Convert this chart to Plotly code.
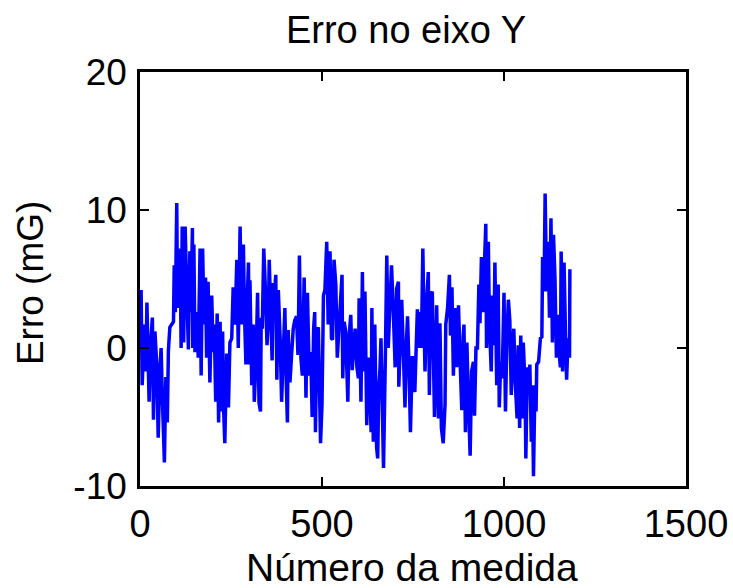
import plotly.graph_objects as go

medida = [3, 6, 12, 16, 19, 25, 29, 34, 37, 41, 46, 50, 55, 58, 61, 67, 71, 75, 78, 82, 92, 94, 97, 101, 103, 107, 110, 113, 116, 120, 124, 128, 133, 137, 140, 144, 145, 148, 151, 156, 160, 165, 168, 172, 176, 180, 183, 187, 192, 197, 201, 204, 208, 212, 216, 220, 224, 227, 229, 233, 238, 243, 247, 252, 256, 261, 266, 270, 275, 279, 284, 287, 291, 295, 298,
          300, 302, 307, 311, 314, 319, 323, 327, 331, 333, 336, 340, 344, 349, 353, 355, 359, 363, 366, 369, 373, 376, 380, 385, 389, 394, 398, 402, 405, 407, 412, 416, 421, 425, 430, 434, 438, 442, 446, 451,
          456, 460, 465, 469, 473, 477, 480, 482, 486, 490, 494, 496, 500, 504, 508, 513, 517, 522, 526, 529, 533, 538, 542, 546, 551, 555, 557, 561, 565, 568, 571, 574, 579, 583, 587, 591, 596, 600, 602,
          607, 611, 614, 618, 623, 627, 631, 635, 637, 641, 645, 650, 653, 656, 659, 662, 666, 669, 674, 678, 682, 687, 691, 696, 701, 705, 710, 711, 715, 719, 724, 728, 732, 735, 739, 743, 748, 752, 755,
          758, 762, 767, 769, 773, 777, 780, 783, 788, 792, 795, 799, 803, 806, 809, 813, 815, 820, 824, 828, 833, 838, 840, 845, 850, 853, 857, 861, 865, 870, 875, 879, 884, 888, 890, 894, 898, 902, 905,
          907, 911, 916, 919, 923, 927, 931, 934, 938, 942, 946, 950, 952, 957, 960, 965, 968, 972, 975, 980, 984, 987, 991, 995, 1000, 1004, 1008, 1012, 1016, 1020, 1025, 1027, 1031, 1036, 1039, 1043, 1046, 1050, 1053,
          1058, 1060, 1064, 1068, 1071, 1075, 1078, 1081, 1085, 1088, 1090, 1095, 1100, 1104, 1106, 1110, 1113, 1117, 1121, 1125, 1129, 1133, 1136, 1140, 1144, 1148, 1151, 1155, 1157, 1161, 1165, 1169, 1172, 1176, 1180, 1181]
erro = [4.2, -2.7, 1.7, -1.7, 3.3, -3.9, 0.2, 2.2, -5.2, 1.2, -1.2, -6.5, -1.4, 0.0, -3.2, -8.3, -2.1, -5.4, -0.2, 1.5, 1.9, 6.0, 2.6, 10.5, 2.9, 5.3, 7.2, 0.0, 8.8, 0.4, 8.8, 4.6, -0.1, 7.0, 2.6, 8.7, 0.0, 7.5, -0.3, 2.6, -0.7, 7.2, -2.0, 7.2, 1.7, 5.1, -0.7, 4.8, -2.5, 3.8, -0.3, 1.7, -3.9, 2.5, -5.4, 1.9, -4.6, 1.2, -3.9, -6.9, -0.4, -4.3, 0.4, 0.7, 4.4, 1.7, 6.4, 0.0, 8.8, 1.7, 7.5, 2.6, -1.2, 3.8, 6.2,
        -1.2, 4.9, -2.7, 1.7, -3.9, -0.7, 4.0, -4.0, -4.6, 2.2, 1.4, 7.2, 4.6, 0.2, 2.6, 6.4, 2.7, -0.9, 4.7, 3.6, 5.3, -2.3, 4.2, 0.7, -3.9, 0.9, 2.9, -2.7, -5.4, 1.3, -2.5, -0.7, 1.4, 2.0, 2.3, -0.5, 6.7, -0.7, -2.0, 5.1,
        -3.6, 4.0, -2.0, -0.3, -5.0, 1.4, 2.6, -6.1, 1.2, 1.5, -6.2, -6.9, -4.1, 3.8, 4.2, 7.7, 1.7, 7.0, 0.7, 0.6, 6.4, 4.6, -0.7, 1.1, 4.4, 5.3, -2.2, 1.9, 1.2, -1.0, -3.9, 0.7, 2.4, -1.6, 0.2, 1.4, -1.4, -2.2, 3.6,
        -3.9, 5.5, -1.7, 4.1, -5.6, -0.7, -2.7, -6.1, 2.9, -6.8, 1.7, -7.2, -8.0, -2.9, -1.7, 0.7, -7.0, -8.7, -0.7, 6.7, 0.0, 3.8, 6.0, 2.6, -1.4, 4.3, 4.8, -2.8, 1.2, 3.5, -0.7, -4.3, 0.4, 2.3, -1.4, -6.1, -0.7, -0.7, -3.2,
        0.7, 2.8, 0.0, 2.6, 0.0, 7.2, 2.2, -1.7, 3.6, 5.5, -3.4, 3.8, 4.1, -1.7, -5.0, -0.4, 3.1, -5.1, 1.8, -5.8, -6.9, -4.1, 1.7, 2.9, 5.3, 0.9, 4.4, -2.0, 2.9, -1.4, 3.1, -0.6, -4.5, 0.9, 1.7, -6.1, 0.4, -3.6, -5.6,
        -7.8, -1.7, -1.0, -4.9, 0.0, 0.0, 4.6, 1.8, 6.6, 2.6, 7.0, 9.0, 0.0, 7.7, 1.7, -1.7, 3.8, 0.2, 6.2, -2.7, 4.6, -4.3, -1.0, -2.2, 4.0, -4.6, 0.7, 3.5, 2.0, -3.4, 0.7, 1.4, -2.5, -5.1, 0.2, -5.8, 0.9, -5.1, 0.4,
        -2.9, -8.0, -1.4, -2.9, -1.2, -6.8, -2.7, -9.3, -2.7, -4.6, -1.2, -1.0, 0.7, 0.8, 6.6, 4.1, 11.2, 4.1, 7.7, 2.2, 9.4, 0.4, 8.2, 5.1, -0.7, 2.4, -0.3, -1.4, 7.0, -1.7, 6.2, 0.9, -2.3, 0.7, -0.7, 5.7]

x_ticks = [0, 500, 1000, 1500]
y_ticks = [-10, 0, 10, 20]

FONT = "Liberation Sans, Arial, sans-serif"

fig = go.Figure()
fig.add_trace(go.Scatter(x=medida, y=erro, mode="lines",
                         line=dict(color="#0000ff", width=3.5), showlegend=False))

axis_common = dict(showline=True, linecolor="black", linewidth=2.5, mirror="allticks",
                   ticks="inside", ticklen=9, tickwidth=2, tickcolor="black",
                   showgrid=False, zeroline=False, automargin=False)

fig.update_layout(
    width=733, height=588,
    margin=dict(l=140, r=47, t=72, b=102, autoexpand=False),
    paper_bgcolor="white", plot_bgcolor="white",
    font=dict(family=FONT, color="black"),
    title=dict(text="Erro no eixo Y", x=406 / 733, xanchor="center",
               y=1 - 30 / 588, yanchor="middle", yref="container",
               font=dict(family=FONT, size=38, color="black")),
    xaxis=dict(range=[0, 1500], tickvals=x_ticks, ticktext=[str(v) for v in x_ticks],
               ticklabelstandoff=3, tickfont=dict(family=FONT, size=38, color="black"),
               **axis_common),
    yaxis=dict(range=[-10, 20], tickvals=y_ticks, ticktext=[str(v) for v in y_ticks],
               ticklabelstandoff=3, tickfont=dict(family=FONT, size=37, color="black"),
               **axis_common),
    annotations=[
        dict(text="Número da medida", xref="paper", yref="paper", x=0.498, y=-0.197,
             xanchor="center", yanchor="middle", showarrow=False,
             font=dict(family=FONT, size=39, color="black")),
        dict(text="Erro (mG)", xref="paper", yref="paper", x=-0.2015, y=0.49,
             xanchor="center", yanchor="middle", showarrow=False, textangle=-90,
             font=dict(family=FONT, size=37, color="black")),
    ],
)

# remove the default 8px page margin so the figure fills the window exactly
fig.write_html("out.html", config={"displayModeBar": False},
               post_script="document.body.style.margin='0';")
